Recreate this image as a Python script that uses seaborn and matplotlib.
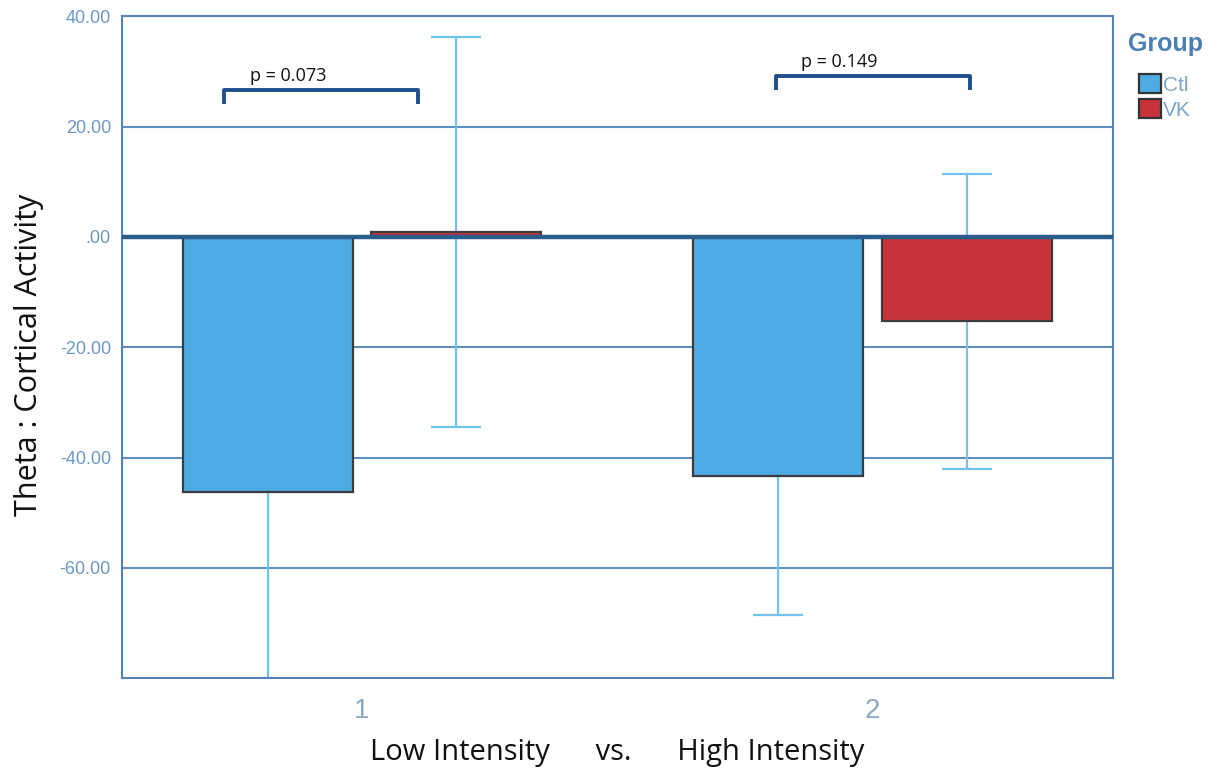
import matplotlib
matplotlib.use("Agg")
import matplotlib.pyplot as plt
import seaborn as sns
import pandas as pd
import numpy as np

# Group means and error-bar half-widths per intensity condition
conditions = ["1", "2"]
groups = ["Ctl", "VK"]
ctl_means = [-46.3, -43.4]
vk_means = [0.9, -15.3]
ctl_err = [35.0, 25.1]
vk_err = [35.4, 26.7]
p_values = ["p = 0.073", "p = 0.149"]

df = pd.DataFrame({
    "Condition": conditions * 2,
    "Group": ["Ctl"] * len(conditions) + ["VK"] * len(conditions),
    "Value": ctl_means + vk_means,
})
errs = {"Ctl": ctl_err, "VK": vk_err}

sns.set_style("white")
plt.rcParams["font.family"] = ["Liberation Sans", "DejaVu Sans"]

fig = plt.figure(figsize=(12.2, 7.69), dpi=100)
ax = fig.add_axes([0.1, 0.118, 0.812, 0.861])

palette = {"Ctl": "#4eace5", "VK": "#c8323a"}
sns.barplot(data=df, x="Condition", y="Value", hue="Group", order=conditions,
            hue_order=groups, palette=palette, width=0.74, gap=0.1,
            errorbar=None, edgecolor="#3c3c3c", linewidth=1.6, saturation=1,
            ax=ax, zorder=3)

# Error bars sit behind the bars, centred on each bar
for cont, grp in zip(ax.containers, groups):
    xs = [b.get_x() + b.get_width() / 2 for b in cont]
    means = df[df["Group"] == grp]["Value"].tolist()
    ax.errorbar(xs, means, yerr=errs[grp], fmt="none", ecolor="#72c4ef",
                elinewidth=1.6, capsize=18, capthick=1.6, zorder=2)

ax.set_ylim(-80, 40)
ax.set_xlim(-0.47, 1.47)
yt = [40, 20, 0, -20, -40, -60]
ax.set_yticks(yt)
ax.set_yticklabels([f"{v:.2f}" if v != 0 else ".00" for v in yt])
for v in yt:
    if v not in (0, 40):
        ax.axhline(v, color="#5d8fbf", lw=1.5, zorder=1)
ax.axhline(0, color="#2a5c8c", lw=3.2, zorder=4)

for s in ax.spines.values():
    s.set_color("#5584b4")
    s.set_linewidth(1.5)
    s.set_visible(True)

ax.tick_params(axis="y", length=0, labelsize=13, labelcolor="#6d98c2", pad=8)
ax.tick_params(axis="x", length=0, labelsize=20, labelcolor="#8aa9c8", pad=14)

ax.set_ylabel("Theta : Cortical Activity", fontsize=22, color="#111111",
              family=["Open Sans", "DejaVu Sans"], labelpad=11)
ax.yaxis.label.set_y(0.488)
ax.set_xlabel("Low Intensity      vs.      High Intensity", fontsize=21,
              color="#111111", family=["Open Sans", "DejaVu Sans"], labelpad=10)

# Significance brackets between groups
brackets = [(-0.27, 0.11, 26.6, 24.1), (0.81, 1.19, 29.1, 26.6)]
for (x0, x1, yh, yl), txt in zip(brackets, p_values):
    ax.plot([x0, x0, x1, x1], [yl, yh, yh, yl], color="#1f4f8c", lw=2.8,
            solid_capstyle="butt", zorder=5)
    ax.text(x0 + 0.05, yh + 1.0, txt, fontsize=13, color="#111111",
            ha="left", va="bottom", family=["Open Sans", "DejaVu Sans"])

handles, labels = ax.get_legend_handles_labels()
ax.legend(handles, labels, title="Group", loc="upper left",
          bbox_to_anchor=(1.003, 0.995), frameon=False, fontsize=15,
          title_fontproperties={"weight": "bold", "size": 18},
          handlelength=1.05, handleheight=1.05, handletextpad=0.1,
          labelspacing=0.2, borderaxespad=0.3, borderpad=0.3)
leg = ax.get_legend()
leg.get_title().set_color("#4a7fb3")
for t in leg.get_texts():
    t.set_color("#7ea3c9")
leg._legend_box.align = "left"
leg._legend_box.sep = 5
leg._legend_handle_box.pad = 8
for h in leg.legend_handles:
    h.set_edgecolor("#333333")
    h.set_linewidth(1.6)

fig.savefig("out.png", dpi=100)
